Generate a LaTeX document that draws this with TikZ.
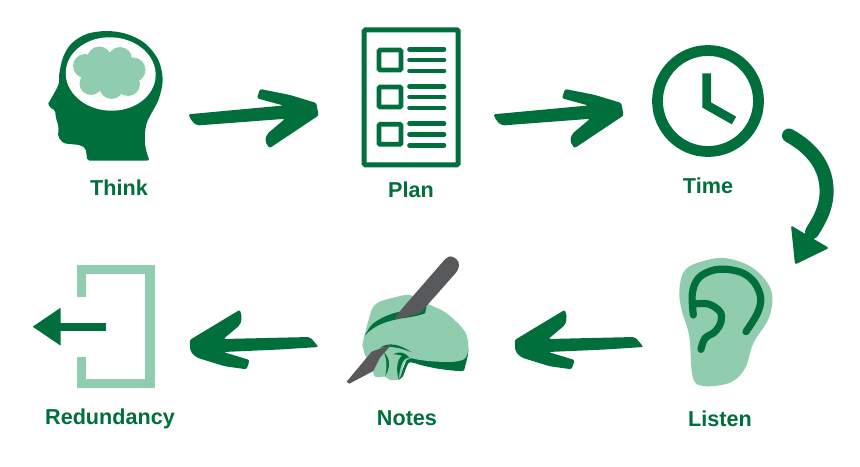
\documentclass[tikz,border=0pt]{standalone}
\usepackage{fontspec}
\setmainfont{Liberation Sans}
\definecolor{dk}{HTML}{006F3C}
\definecolor{lt}{HTML}{8FCDAE}
\definecolor{pen}{HTML}{58595B}
\tikzset{
  lab/.style={font=\bfseries\fontsize{16.2}{19}\selectfont,text=dk,inner sep=0pt,anchor=center},
  zoomed/.style={shift={#1},x=.25pt,y=-.25pt},
  handarrowright/.pic={\fill[dk,rounded corners=1.6pt] (188.3,114.3)--(192,121.5)--(197,125.5)--(285,118.8)--(267,134)--(265,141)--(269.3,148.3)--(318.6,115.5)--(316.3,103)--(290,95)--(260,89)--(257,98.3)--(283.3,105.5)--(240,109.5)--cycle;},
  handarrowleft/.pic={\fill[dk,rounded corners=1.6pt] (318.6,347)--(310,337)--(223.3,339)--(240,325)--(242,318)--(240,309.7)--(189.7,340)--(190.4,351.7)--(196.7,357.6)--(225,366.3)--(246.7,369.3)--(249.6,360)--(223.3,352)--(280,349.5)--cycle;}
}
\begin{document}
\begin{tikzpicture}[x=.75pt,y=-.75pt]
\useasboundingbox (0,0) rectangle (860,467);
\fill[white] (0,0) rectangle (860,467);

% head
\begin{scope}[zoomed={(30,20)}]
\fill[dk] plot[smooth,tension=.55] coordinates {(357,422)(345,370)(350,310)(385,240)(398,180)(385,120)(345,70)(290,42)(230,33)(170,42)(125,70)(100,110)(88,160)(85,195)(55,250)}
  [rounded corners=1.5pt] -- (58,262) -- (75,270) -- (78,295) -- (86,320) -- (84,350) -- (100,370) -- (150,375) -- (167,385) -- (172,422) -- cycle;
\end{scope}
\fill[white,rotate around={-3:(110.7,74)}] (110.7,74) ellipse [x radius=45,y radius=36.7];
\fill[lt] (85,66) circle[radius=12] (99.3,58.5) circle[radius=12] (120,59) circle[radius=12] (133,70) circle[radius=12.5] (128,84) circle[radius=12] (111.5,87) circle[radius=12] (91,83.5) circle[radius=11.5] (108,72) circle[radius=20];

% arrows top
\pic at (0,0) {handarrowright};
\pic at (305,0) {handarrowright};

% plan
\draw[dk,line width=3.75pt,rounded corners=1pt] (364.2,29.8) rectangle (458.2,164.8);
\foreach \d in {0,37,74.3}{
  \draw[dk,line width=3.5pt,rounded corners=.8pt] (379,50+\d) rectangle (401,70+\d);
  \foreach \yy in {49.3,60,71}
    \draw[dk,line width=3.5pt,line cap=round] (409.5,\yy+\d)--(444,\yy+\d);
}

% clock
\draw[dk,line width=8.1pt] (708,101) circle[radius=50.5];
\draw[dk,line width=6.6pt] (706.7,73.3)--(706.7,105)--(734,120.5);

% curved arrow
\draw[dk,line width=10.5pt,line cap=round] (789,135.5) .. controls (815,150) and (828,170) .. (826.5,195) .. controls (825,212) and (818,222) .. (812,232);
\fill[dk,rounded corners=1.5pt] (791,225.5)--(829,248)--(795,264.5)--cycle;

% ear
\begin{scope}[zoomed={(640,60)}]
\fill[lt] plot[smooth cycle,tension=.6] coordinates {(118,690)(135,630)(190,603)(260,595)(340,625)(393,690)(388,770)(340,850)(315,925)(270,968)(190,978)(158,950)(148,830)(125,750)};
\draw[dk,line width=5.4pt,line cap=round] plot[smooth,tension=.6] coordinates {(160,765)(157,700)(175,655)(215,632)(260,628)(310,640)(345,670)(362,715)(352,760)(318,815)};
\draw[dk,line width=5.4pt,line cap=round] plot[smooth,tension=.6] coordinates {(160,732)(205,732)(240,755)(243,785)(225,815)(195,835)(183,868)};
\end{scope}

% bottom arrows
\pic at (325,0) {handarrowleft};
\pic at (0,0) {handarrowleft};

% hand
\begin{scope}[zoomed={(330,245)}]
\fill[dk] plot[smooth,tension=.5] coordinates {(410,290)(415,320)(405,365)(395,378)(330,372)(280,362)(240,352)(228,370)(218,395)(205,405)} -- (240,320) -- cycle;
\fill[lt] plot[smooth,tension=.5] coordinates {(97,300)(105,265)(125,195)(145,172)(190,158)(240,150)(290,175)(350,205)(405,260)(415,310)(405,340)(375,350)(320,350)(270,345)(240,340)(222,355)(215,385)(205,403)(180,405)(165,395)(135,395)(128,370)} -- (105,330) -- cycle;
% finger shading
\fill[dk] (150,308) .. controls (175,292) and (205,295) .. (245,322) .. controls (210,307) and (180,303) .. (150,308) -- cycle;
\fill[dk] (162,322) .. controls (180,340) and (182,365) .. (166,393) .. controls (172,365) and (170,342) .. (162,322) -- cycle;
\fill[dk] (190,328) .. controls (210,318) and (225,322) .. (238,338) .. controls (222,338) and (212,350) .. (206,402) .. controls (198,375) and (200,345) .. (216,332) .. controls (208,329) and (198,328) .. (190,328) -- cycle;
% upper crescent
\fill[dk] plot[smooth,tension=.55] coordinates {(105,272)(130,235)(190,205)(290,185)} -- (285,205) .. controls (260,215) and (225,218) .. (205,222) .. controls (175,228) and (130,240) .. (105,272) -- cycle;
% pen
\fill[pen,rounded corners=2.5pt] (350,37)--(366,32)--(388,50)--(385,75)--(270,205)--(190,225)--(210,198)--cycle;
\fill[pen] (185,298)--(125,320)--(50,410)--(58,416)--(130,378)--(150,338)--cycle;
\end{scope}

% door
\draw[lt,line width=7.2pt] (81.5,296.7)--(81.5,269.5)--(150.2,269.5)--(150.2,383.5)--(81.5,383.5)--(81.5,357.3);
\fill[dk] (32.7,326.7)--(60.7,307.7)--(60.7,345.7)--cycle;
\draw[dk,line width=6pt] (58,326.7)--(106,326.7);

% labels
\node[lab] (think) at (119,187.5) {Think};
\node[lab] (plan) at (411,189.5) {Plan};
\node[lab] (time) at (708,185.5) {Time};
\node[lab] (listen) at (720,418.5) {Listen};
\node[lab] (notes) at (407,418.5) {Notes};
\node[lab] (redund) at (110,418.5) {Redundancy};
\end{tikzpicture}
\end{document}
